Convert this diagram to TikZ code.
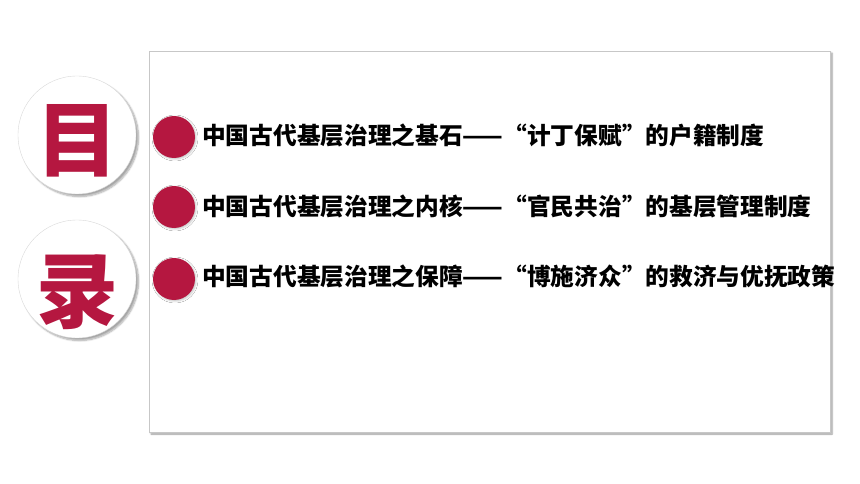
\documentclass[tikz,border=0pt]{standalone}
\usepackage{fontspec}
\newfontfamily\cjk{Noto Sans CJK SC}
\usepackage{tikz}
\usetikzlibrary{shadows.blur}
\definecolor{crimson}{RGB}{181,23,64}
\tikzset{
  frame/.style={draw=black!22,fill=white,line width=0.8pt,blur shadow={shadow xshift=2pt,shadow yshift=-2pt,shadow blur steps=6,shadow opacity=40}},
  disc/.style={circle,draw=black!15,fill=white,minimum size=118pt,inner sep=0,blur shadow={shadow xshift=2.5pt,shadow yshift=-2.5pt,shadow blur steps=8,shadow opacity=35}},
  dot/.style={circle,fill=crimson,minimum size=42pt,inner sep=0,blur shadow={shadow xshift=1pt,shadow yshift=-1pt,shadow blur steps=3,shadow opacity=25,shadow blur radius=2pt}},
  item/.style={anchor=west,inner sep=0,font=\cjk\bfseries\fontsize{23.7}{28}\selectfont}
}
\begin{document}
\begin{tikzpicture}[x=1pt,y=-1pt]
    \useasboundingbox (0,0) rectangle (860,484);
    \draw[frame] (149,51) rectangle (830,432);
    \node[disc] (mu) at (77,135) {};
    \node[disc] (lu) at (77,279) {};
    \node[text=crimson,inner sep=0,font=\cjk\bfseries\fontsize{82}{82}\selectfont] (tmu) at (77,141) {目};
    \node[text=crimson,inner sep=0,font=\cjk\bfseries\fontsize{82}{82}\selectfont] (tlu) at (77,292) {录};
    \node[dot] (d1) at (174,137) {};
    \node[dot] (d2) at (174,207) {};
    \node[dot] (d3) at (174,279) {};
    \node[item] (t1) at (202,135) {中国古代基层治理之基石——“计丁保赋”的户籍制度};
    \node[item] (t2) at (202,206) {中国古代基层治理之内核——“官民共治”的基层管理制度};
    \node[item] (t3) at (202,277) {中国古代基层治理之保障——“博施济众”的救济与优抚政策};
\end{tikzpicture}
\end{document}
